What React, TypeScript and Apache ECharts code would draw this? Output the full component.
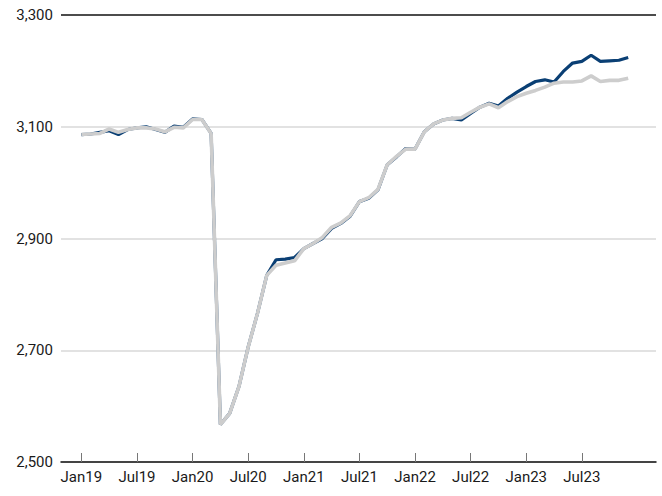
import React, { useEffect, useRef } from "react";
import * as echarts from "echarts";

const months = [
  "Jan19","Feb19","Mar19","Apr19","May19","Jun19","Jul19","Aug19","Sep19","Oct19","Nov19","Dec19",
  "Jan20","Feb20","Mar20","Apr20","May20","Jun20","Jul20","Aug20","Sep20","Oct20","Nov20","Dec20",
  "Jan21","Feb21","Mar21","Apr21","May21","Jun21","Jul21","Aug21","Sep21","Oct21","Nov21","Dec21",
  "Jan22","Feb22","Mar22","Apr22","May22","Jun22","Jul22","Aug22","Sep22","Oct22","Nov22","Dec22",
  "Jan23","Feb23","Mar23","Apr23","May23","Jun23","Jul23","Aug23","Sep23","Oct23","Nov23","Dec23",
];

const navyValues = [
  3086, 3087, 3090, 3093, 3086, 3095, 3098, 3100, 3095, 3090, 3101, 3099,
  3114, 3113, 3088, 2567, 2587, 2635, 2706, 2766, 2834, 2862, 2863, 2866,
  2882, 2891, 2900, 2918, 2927, 2940, 2966, 2972, 2987, 3032, 3046, 3061,
  3060, 3091, 3105, 3112, 3115, 3112, 3124, 3135, 3142, 3137, 3151, 3162,
  3172, 3181, 3184, 3180, 3199, 3214, 3217, 3228, 3217, 3218, 3219, 3224,
];

const greyValues = [
  3086, 3087, 3088, 3096, 3090, 3095, 3098, 3098, 3096, 3091, 3099, 3098,
  3113, 3113, 3088, 2567, 2587, 2635, 2706, 2766, 2834, 2852, 2856, 2860,
  2882, 2891, 2902, 2920, 2928, 2941, 2966, 2973, 2988, 3032, 3047, 3060,
  3060, 3091, 3105, 3112, 3115, 3116, 3126, 3135, 3141, 3134, 3145, 3154,
  3160, 3165, 3171, 3178, 3180, 3180, 3182, 3191, 3181, 3183, 3183, 3187,
];

const tickIndices = [0, 6, 12, 18, 24, 30, 36, 42, 48, 54];
const yMin = 2500;
const yMax = 3300;
const yInterval = 200;

export default function App() {
  const ref = useRef<HTMLDivElement>(null);
  useEffect(() => {
    document.body.style.margin = "0";
    if (!ref.current) return;
    const chart = echarts.init(ref.current, null, { renderer: "svg" });
    const font = "Roboto, 'Noto Sans', sans-serif";
    chart.setOption({
      animation: false,
      grid: { left: 61, right: 6, top: 15, bottom: 34 },
      xAxis: {
        type: "value",
        min: -2.2,
        max: 62,
        splitLine: { show: false },
        axisLine: { show: true, lineStyle: { color: "#111", width: 1.5 } },
        axisTick: {
          show: true,
          inside: true,
          length: 9,
          customValues: tickIndices,
          lineStyle: { color: "#777", width: 1 },
        },
        axisLabel: {
          customValues: tickIndices,
          formatter: (v: number) => months[Math.round(v)] ?? "",
          color: "#1a1a1a",
          fontSize: 15,
          fontFamily: font,
          margin: 7,
        },
      },
      yAxis: {
        type: "value",
        min: yMin,
        max: yMax,
        interval: yInterval,
        axisLine: { show: false },
        axisTick: { show: false },
        axisLabel: {
          color: "#1a1a1a",
          fontSize: 15,
          fontFamily: font,
          margin: 8,
          formatter: (v: number) => v.toLocaleString("en-US"),
        },
        splitLine: {
          show: true,
          lineStyle: {
            color: ["#d9d9d9", "#d9d9d9", "#d9d9d9", "#d9d9d9", "#111"],
            width: 1.5,
          },
        },
      },
      series: [
        {
          type: "line",
          data: navyValues.map((v, i) => [i, v]),
          showSymbol: false,
          lineStyle: { color: "#0a3f74", width: 3.2 },
          z: 2,
        },
        {
          type: "line",
          data: greyValues.map((v, i) => [i, v]),
          showSymbol: false,
          lineStyle: { color: "#cdcdcd", width: 3.6 },
          z: 3,
        },
      ],
    });
    return () => chart.dispose();
  }, []);
  return <div ref={ref} style={{ width: 662, height: 496 }} />;
}
